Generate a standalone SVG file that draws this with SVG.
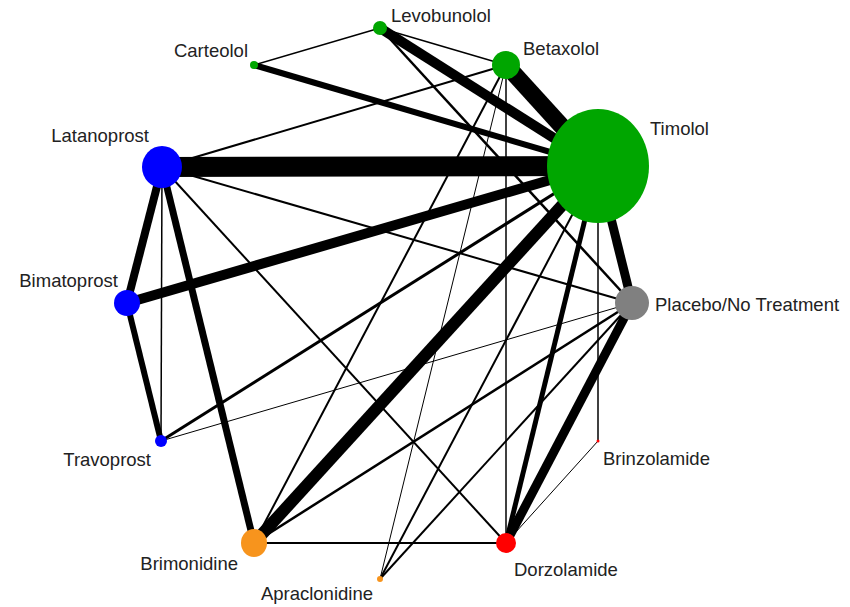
<svg xmlns="http://www.w3.org/2000/svg" width="850" height="607" viewBox="0 0 850 607">
<style>
.e{stroke:#000;fill:none}
.lbl{font-family:"Liberation Sans",Arial,sans-serif;font-size:18.5px;fill:#222}
.end{text-anchor:end}
.g{fill:#00a600}
.b{fill:#0000ff}
.o{fill:#f7941d}
.r{fill:#ff0000}
.p{fill:#808080}
</style>
<rect width="850" height="607" fill="#fff"/>
<g id="connectors">
<line class="e" x1="162" y1="167" x2="598" y2="166" stroke-width="20"/>
<line class="e" x1="506" y1="65" x2="598" y2="166" stroke-width="17"/>
<line class="e" x1="380" y1="28" x2="598" y2="166" stroke-width="10"/>
<line class="e" x1="254" y1="65" x2="598" y2="166" stroke-width="6"/>
<line class="e" x1="127" y1="303" x2="598" y2="166" stroke-width="10"/>
<line class="e" x1="254" y1="543" x2="598" y2="166" stroke-width="12"/>
<line class="e" x1="632" y1="303" x2="598" y2="166" stroke-width="9"/>
<line class="e" x1="632" y1="303" x2="506" y2="543" stroke-width="9"/>
<line class="e" x1="598" y1="166" x2="506" y2="543" stroke-width="5"/>
<line class="e" x1="162" y1="167" x2="127" y2="303" stroke-width="8"/>
<line class="e" x1="162" y1="167" x2="254" y2="543" stroke-width="7"/>
<line class="e" x1="127" y1="303" x2="161" y2="441" stroke-width="6"/>
<line class="e" x1="161" y1="441" x2="598" y2="166" stroke-width="3"/>
<line class="e" x1="161" y1="441" x2="632" y2="303" stroke-width="1"/>
<line class="e" x1="162" y1="167" x2="161" y2="441" stroke-width="1.5"/>
<line class="e" x1="162" y1="167" x2="506" y2="543" stroke-width="2"/>
<line class="e" x1="162" y1="167" x2="632" y2="303" stroke-width="2"/>
<line class="e" x1="162" y1="167" x2="506" y2="65" stroke-width="2"/>
<line class="e" x1="254" y1="543" x2="506" y2="543" stroke-width="2"/>
<line class="e" x1="254" y1="543" x2="632" y2="303" stroke-width="2.5"/>
<line class="e" x1="254" y1="543" x2="506" y2="65" stroke-width="2"/>
<line class="e" x1="380" y1="579" x2="506" y2="65" stroke-width="1"/>
<line class="e" x1="380" y1="579" x2="598" y2="166" stroke-width="2"/>
<line class="e" x1="380" y1="579" x2="632" y2="303" stroke-width="2"/>
<line class="e" x1="506" y1="65" x2="506" y2="543" stroke-width="1.5"/>
<line class="e" x1="380" y1="28" x2="506" y2="65" stroke-width="1.5"/>
<line class="e" x1="380" y1="28" x2="254" y2="65" stroke-width="1.5"/>
<line class="e" x1="380" y1="28" x2="632" y2="303" stroke-width="2.5"/>
<line class="e" x1="598" y1="166" x2="598" y2="441" stroke-width="1.5"/>
<line class="e" x1="598" y1="441" x2="506" y2="543" stroke-width="1"/>
</g>
<g id="node-levobunolol"><circle class="g" cx="380" cy="28" r="7"/><text class="lbl" x="391" y="22">Levobunolol</text></g>
<g id="node-carteolol"><circle class="g" cx="254" cy="65" r="4"/><text class="lbl end" x="248" y="57">Carteolol</text></g>
<g id="node-betaxolol"><circle class="g" cx="506" cy="65" r="14"/><text class="lbl" x="523" y="55">Betaxolol</text></g>
<g id="node-timolol"><ellipse class="g" cx="598" cy="166" rx="51" ry="57"/><text class="lbl" x="650" y="135">Timolol</text></g>
<g id="node-latanoprost"><ellipse class="b" cx="162" cy="167" rx="20" ry="21"/><text class="lbl end" x="149" y="142">Latanoprost</text></g>
<g id="node-bimatoprost"><circle class="b" cx="127" cy="303" r="13"/><text class="lbl end" x="118" y="287">Bimatoprost</text></g>
<g id="node-travoprost"><circle class="b" cx="161" cy="441" r="6"/><text class="lbl end" x="151" y="466">Travoprost</text></g>
<g id="node-brimonidine"><ellipse class="o" cx="254" cy="543" rx="13" ry="14"/><text class="lbl end" x="238" y="570">Brimonidine</text></g>
<g id="node-apraclonidine"><circle class="o" cx="380" cy="579" r="3"/><text class="lbl end" x="373" y="600">Apraclonidine</text></g>
<g id="node-dorzolamide"><circle class="r" cx="506" cy="543" r="10"/><text class="lbl" x="514" y="576">Dorzolamide</text></g>
<g id="node-brinzolamide"><circle class="r" cx="598" cy="441" r="1.5"/><text class="lbl" x="603" y="465">Brinzolamide</text></g>
<g id="node-placebo"><circle class="p" cx="632" cy="303" r="17"/><text class="lbl" x="655" y="311">Placebo/No Treatment</text></g>
</svg>
